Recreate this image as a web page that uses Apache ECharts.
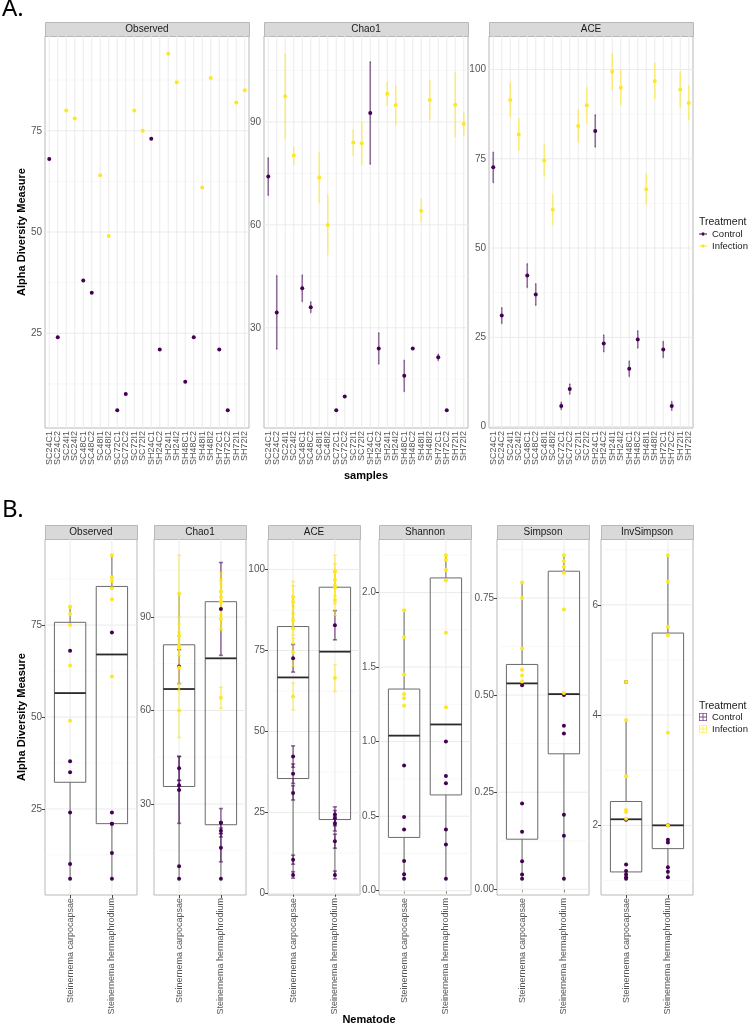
<!DOCTYPE html>
<html>
<head>
<meta charset="utf-8">
<title>Alpha diversity</title>
<script src="https://cdn.jsdelivr.net/npm/echarts@6/dist/echarts.min.js"></script>
<style>
  html, body { margin: 0; padding: 0; background: #fff; }
  #chart { width: 750px; height: 1027px; }
</style>
</head>
<body>
<div id="chart"></div>
<script>
// samples in plotting order
const samples = ['SC24C1', 'SC24C2', 'SC24I1', 'SC24I2', 'SC48C1', 'SC48C2', 'SC48I1', 'SC48I2',
  'SC72C1', 'SC72C2', 'SC72I1', 'SC72I2', 'SH24C1', 'SH24C2', 'SH24I1', 'SH24I2',
  'SH48C1', 'SH48C2', 'SH48I1', 'SH48I2', 'SH72C1', 'SH72C2', 'SH72I1', 'SH72I2'];
const treatment = ['Control', 'Control', 'Infection', 'Infection', 'Control', 'Control', 'Infection', 'Infection',
  'Control', 'Control', 'Infection', 'Infection', 'Control', 'Control', 'Infection', 'Infection',
  'Control', 'Control', 'Infection', 'Infection', 'Control', 'Control', 'Infection', 'Infection'];
const nematodes = ['Steinernema carpocapsae', 'Steinernema hermaphrodium'];
const nematode = [0, 0, 0, 0, 0, 0, 0, 0, 0, 0, 0, 0, 1, 1, 1, 1, 1, 1, 1, 1, 1, 1, 1, 1];
const treatments = ['Control', 'Infection'];

// richness / diversity values
const observed = [68, 24, 80, 78, 38, 35, 64, 49, 6, 10, 80, 75, 73, 21, 94, 87, 13, 24, 61, 88, 21, 6, 82, 85];
const chao1 = [74.1, 34.5, 97.5, 80.2, 41.5, 36, 73.8, 60, 6, 10, 84, 83.8,
  92.6, 24, 98.2, 94.9, 16, 24, 64.1, 96.4, 21.4, 6, 95, 89.4];
const chao1Se = [5.45, 10.7, 12.35, 2.55, 3.85, 1.55, 7.35, 8.65, 0, 0, 3.75, 6.2,
  14.9, 4.55, 3.3, 5.7, 4.55, 0, 3.35, 5.85, 0.9, 0, 9.3, 3.25];
const ace = [72.6, 31.1, 91.5, 81.8, 42.3, 37, 74.5, 60.8, 5.8, 10.5, 84.2, 90,
  82.8, 23.3, 99.4, 94.9, 16.2, 24.4, 66.5, 96.8, 21.6, 5.8, 94.4, 90.6];
const aceSe = [4.25, 2.2, 4.8, 4.45, 3.3, 3, 4.35, 4.15, 1, 1.4, 4.45, 4.95,
  4.5, 2.35, 5, 4.8, 2.15, 2.4, 4.15, 4.95, 2.25, 1.2, 4.95, 4.75];
const shannon = [0.84, 0.2, 1.7, 1.45, 0.495, 0.41, 1.32, 1.24, 0.08, 0.11, 1.88, 1.29,
  1.0, 0.72, 2.25, 2.15, 0.31, 0.77, 1.23, 2.22, 0.41, 0.08, 1.73, 2.08];
const simpson = [0.525, 0.072, 0.75, 0.62, 0.221, 0.148, 0.565, 0.535, 0.027, 0.038, 0.79, 0.55,
  0.5, 0.401, 0.86, 0.83, 0.138, 0.421, 0.505, 0.845, 0.192, 0.027, 0.72, 0.815];
const invSimpson = [2.1, 1.11, 3.91, 2.89, 1.29, 1.17, 2.28, 2.12, 1.03, 1.06, 4.6, 2.24,
  2.0, 1.69, 6.9, 5.6, 1.16, 1.74, 2.0, 6.42, 1.24, 1.06, 3.68, 5.45];

// axis ticks per measure
const observedTicks = [25, 50, 75];
const chao1Ticks = [30, 60, 90];
const aceTicks = [0, 25, 50, 75, 100];
const shannonTicks = [0, 0.5, 1, 1.5, 2];
const simpsonTicks = [0, 0.25, 0.5, 0.75];
const invSimpsonTicks = [2, 4, 6];

const measures = [
  {name: 'Observed', values: observed, se: null, ticks: observedTicks, digits: 0},
  {name: 'Chao1', values: chao1, se: chao1Se, ticks: chao1Ticks, digits: 0},
  {name: 'ACE', values: ace, se: aceSe, ticks: aceTicks, digits: 0},
  {name: 'Shannon', values: shannon, se: null, ticks: shannonTicks, digits: 1},
  {name: 'Simpson', values: simpson, se: null, ticks: simpsonTicks, digits: 2},
  {name: 'InvSimpson', values: invSimpson, se: null, ticks: invSimpsonTicks, digits: 0}
];

const FONT = '"Liberation Sans", Arial, sans-serif';
const colors = {Control: '#440154', Infection: '#FDE725'};
const panelA = {top: 36, height: 392, width: 204, lefts: [45, 264, 489]};
const panelB = {top: 539, height: 356, width: 92, lefts: [45, 154, 268, 379, 497, 601]};
const stripH = 14;

function quantile(s, p) {
  const h = (s.length - 1) * p;
  const lo = Math.floor(h);
  const hi = Math.min(lo + 1, s.length - 1);
  return s[lo] + (h - lo) * (s[hi] - s[lo]);
}

function boxStats(vals) {
  const s = [...vals].sort((a, b) => a - b);
  const q1 = quantile(s, 0.25), md = quantile(s, 0.5), q3 = quantile(s, 0.75);
  const f = 1.5 * (q3 - q1);
  const inside = s.filter(v => v >= q1 - f && v <= q3 + f);
  return {
    lw: Math.min(...inside), q1, md, q3, uw: Math.max(...inside),
    out: s.filter(v => v < q1 - f || v > q3 + f)
  };
}

// ggplot-like 5% expansion of the data range
function yRange(m) {
  const lo = m.values.map((v, i) => v - (m.se ? m.se[i] : 0));
  const hi = m.values.map((v, i) => v + (m.se ? m.se[i] : 0));
  const a = Math.min(...lo), b = Math.max(...hi), d = (b - a) * 0.05;
  return [a - d, b + d];
}

function minorTicks(ticks, range) {
  const step = ticks[1] - ticks[0];
  const out = [];
  for (let v = ticks[0] - step / 2; v <= range[1]; v += step) {
    if (v >= range[0]) out.push(v);
  }
  return out;
}

const grids = [], xAxes = [], yAxes = [], series = [], graphics = [];

function addPanel(rect, left, m, mode) {
  const gi = grids.length;
  const isB = mode === 'B';
  // panel A: one category per sample; panel B: value axis 0.4..2.6 with one position per nematode
  const xPos = isB ? nematodes.map((_, i) => i + 1) : samples.map((_, i) => i);
  const xOf = i => isB ? nematode[i] + 1 : i;
  const range = yRange(m);
  const minor = minorTicks(m.ticks, range);
  const labelStyle = {rotate: 90, fontSize: 9, color: '#555', margin: 3, fontFamily: FONT};

  grids.push({
    left: left, top: rect.top, width: rect.width, height: rect.height,
    show: true, backgroundColor: '#fff', borderColor: '#b8b8b8', borderWidth: 1
  });
  if (isB) {
    xAxes.push({
      gridIndex: gi, type: 'value', min: 0.4, max: nematodes.length + 0.6,
      axisLine: {show: false}, splitLine: {show: false},
      axisTick: {customValues: xPos, length: 3, lineStyle: {color: '#444'}},
      axisLabel: Object.assign({customValues: xPos, formatter: v => nematodes[Math.round(v) - 1]}, labelStyle)
    });
  } else {
    xAxes.push({
      gridIndex: gi, type: 'category', data: samples, boundaryGap: true,
      axisLine: {show: false}, splitLine: {show: false},
      axisTick: {alignWithLabel: true, interval: 0, length: 3, lineStyle: {color: '#444'}},
      axisLabel: Object.assign({interval: 0}, labelStyle)
    });
  }
  yAxes.push({
    gridIndex: gi, type: 'value', min: range[0], max: range[1],
    axisLine: {show: false}, splitLine: {show: false},
    axisTick: {customValues: m.ticks, length: 3, lineStyle: {color: '#444'}},
    axisLabel: {
      customValues: m.ticks, formatter: v => v.toFixed(m.digits),
      showMinLabel: true, showMaxLabel: true,
      fontSize: 10, color: '#555', margin: 3, fontFamily: FONT
    }
  });

  // panel grid lines
  series.push({
    type: 'custom', xAxisIndex: gi, yAxisIndex: gi, silent: true, z: 1,
    data: [[xPos[0], m.ticks[0]]],
    renderItem: (params, api) => {
      const cs = params.coordSys;
      const kids = [];
      minor.forEach(v => {
        const y = api.coord([xPos[0], v])[1];
        kids.push({type: 'line', shape: {x1: cs.x, y1: y, x2: cs.x + cs.width, y2: y},
          style: {stroke: '#f3f3f3', lineWidth: 0.6}});
      });
      m.ticks.forEach(v => {
        const y = api.coord([xPos[0], v])[1];
        kids.push({type: 'line', shape: {x1: cs.x, y1: y, x2: cs.x + cs.width, y2: y},
          style: {stroke: '#ebebeb', lineWidth: 1}});
      });
      xPos.forEach(x => {
        const px = api.coord([x, m.ticks[0]])[0];
        kids.push({type: 'line', shape: {x1: px, y1: cs.y, x2: px, y2: cs.y + cs.height},
          style: {stroke: '#ebebeb', lineWidth: 1}});
      });
      return {type: 'group', children: kids};
    }
  });

  if (isB) {
    const boxes = nematodes.map((_, g) => {
      const st = boxStats(m.values.filter((v, i) => nematode[i] === g));
      return {x: g + 1, st};
    });
    series.push({
      type: 'custom', xAxisIndex: gi, yAxisIndex: gi, silent: true, z: 2,
      data: boxes.map(b => [b.x, b.st.lw, b.st.q1, b.st.md, b.st.q3, b.st.uw]),
      encode: {x: 0, y: [1, 2, 3, 4, 5]},
      renderItem: (params, api) => {
        const x = api.value(0);
        const ys = [1, 2, 3, 4, 5].map(k => api.coord([x, api.value(k)])[1]);
        const cx = api.coord([x, api.value(3)])[0];
        const half = api.size([1, 0])[0] * 0.75 / 2;
        const gray = {stroke: '#6a6a6a', lineWidth: 1, fill: null};
        return {type: 'group', children: [
          {type: 'line', shape: {x1: cx, y1: ys[0], x2: cx, y2: ys[1]}, style: gray},
          {type: 'line', shape: {x1: cx, y1: ys[3], x2: cx, y2: ys[4]}, style: gray},
          {type: 'rect', shape: {x: cx - half, y: ys[3], width: half * 2, height: ys[1] - ys[3]}, style: gray},
          {type: 'line', shape: {x1: cx - half, y1: ys[2], x2: cx + half, y2: ys[2]},
            style: {stroke: '#2a2a2a', lineWidth: 1.8}}
        ]};
      }
    });
    const outs = [];
    boxes.forEach(b => b.st.out.forEach(v => outs.push([b.x, v])));
    if (outs.length) {
      series.push({
        type: 'scatter', name: 'outlier', xAxisIndex: gi, yAxisIndex: gi, z: 2,
        symbolSize: 4, itemStyle: {color: '#000'}, silent: true, data: outs
      });
    }
  }

  if (m.se) {
    const bars = [];
    m.values.forEach((v, i) => {
      if (m.se[i] > 0) bars.push([xOf(i), v - m.se[i], v + m.se[i], treatments.indexOf(treatment[i])]);
    });
    series.push({
      type: 'custom', xAxisIndex: gi, yAxisIndex: gi, silent: true, z: 3,
      data: bars,
      encode: {x: 0, y: [1, 2]},
      renderItem: (params, api) => {
        const x = api.value(0);
        const c = colors[treatments[api.value(3)]];
        const p1 = api.coord([x, api.value(1)]);
        const p2 = api.coord([x, api.value(2)]);
        // cap is 0.1 of one x unit, as geom_errorbar(width = 0.1)
        const hw = api.size([1, 0])[0] * 0.1 / 2;
        const st = {stroke: c, lineWidth: 1.6, opacity: 0.55};
        return {type: 'group', children: [
          {type: 'line', shape: {x1: p1[0], y1: p1[1], x2: p2[0], y2: p2[1]}, style: st},
          {type: 'line', shape: {x1: p1[0] - hw, y1: p1[1], x2: p1[0] + hw, y2: p1[1]}, style: st},
          {type: 'line', shape: {x1: p2[0] - hw, y1: p2[1], x2: p2[0] + hw, y2: p2[1]}, style: st}
        ]};
      }
    });
  }

  treatments.forEach(t => {
    series.push({
      type: 'scatter', name: t, xAxisIndex: gi, yAxisIndex: gi, z: 4,
      symbolSize: 4, itemStyle: {color: colors[t], opacity: 1},
      data: m.values.map((v, i) => treatment[i] === t ? [xOf(i), v] : null).filter(d => d)
    });
  });

  // facet strip
  graphics.push({
    type: 'rect', left: left, top: rect.top - stripH, silent: true,
    shape: {width: rect.width, height: stripH},
    style: {fill: '#d9d9d9', stroke: '#b8b8b8', lineWidth: 1}
  });
  graphics.push({
    type: 'text', x: left + rect.width / 2, y: rect.top - stripH / 2, silent: true,
    style: {text: m.name, font: '10px ' + FONT, fill: '#1a1a1a', align: 'center', verticalAlign: 'middle'}
  });
  return gi;
}

measures.slice(0, 3).forEach((m, k) => addPanel(panelA, panelA.lefts[k], m, 'A'));
measures.forEach((m, k) => addPanel(panelB, panelB.lefts[k], m, 'B'));

const yTitle = {
  name: 'Alpha Diversity Measure', nameLocation: 'middle', nameRotate: 90, nameGap: 16,
  nameTextStyle: {fontSize: 11, fontWeight: 'bold', color: '#000', fontFamily: FONT}
};
Object.assign(yAxes[0], yTitle);
Object.assign(yAxes[3], yTitle);
Object.assign(xAxes[1], {
  name: 'samples', nameLocation: 'middle', nameGap: 42,
  nameTextStyle: {fontSize: 11, fontWeight: 'bold', color: '#000', fontFamily: FONT}
});

graphics.push(
  {type: 'text', x: 2, y: -3, silent: true, style: {text: 'A.', font: '24px "Noto Sans", sans-serif', fill: '#000'}},
  {type: 'text', x: 2, y: 498, silent: true, style: {text: 'B.', font: '24px "Noto Sans", sans-serif', fill: '#000'}},
  {type: 'text', x: 699, y: 222, silent: true,
    style: {text: 'Treatment', font: '10.5px ' + FONT, fill: '#1a1a1a', verticalAlign: 'middle'}},
  {type: 'text', x: 699, y: 706, silent: true,
    style: {text: 'Treatment', font: '10.5px ' + FONT, fill: '#1a1a1a', verticalAlign: 'middle'}},
  {type: 'text', x: 369, y: 1020, silent: true,
    style: {text: 'Nematode', font: 'bold 11px ' + FONT, fill: '#000', align: 'center', verticalAlign: 'middle'}}
);

const lineDotIcon = 'path://M0,4.4H10V5.6H0Z M3.5,3.2H6.5V6.8H3.5Z';
const boxIcon = 'path://M0,0H10V1H0Z M0,9H10V10H0Z M0,0H1V10H0Z M9,0H10V10H9Z M0,4.4H10V5.6H0Z M4.4,0H5.6V10H4.4Z';
const legendText = {fontSize: 9.5, color: '#1a1a1a', fontFamily: FONT};

const chart = echarts.init(document.getElementById('chart'), null, {renderer: 'canvas'});
chart.setOption({
  animation: false,
  backgroundColor: '#fff',
  textStyle: {fontFamily: FONT},
  grid: grids,
  xAxis: xAxes,
  yAxis: yAxes,
  legend: [
    {data: treatments, orient: 'vertical', left: 699, top: 229, padding: 0,
      itemWidth: 8, itemHeight: 8, itemGap: 2, icon: lineDotIcon,
      selectedMode: false, textStyle: legendText},
    {data: treatments, orient: 'vertical', left: 699, top: 712, padding: 0,
      itemWidth: 8, itemHeight: 8, itemGap: 2, icon: boxIcon, itemStyle: {opacity: 0.7},
      selectedMode: false, textStyle: legendText}
  ],
  graphic: graphics,
  series: series
});
</script>
</body>
</html>
